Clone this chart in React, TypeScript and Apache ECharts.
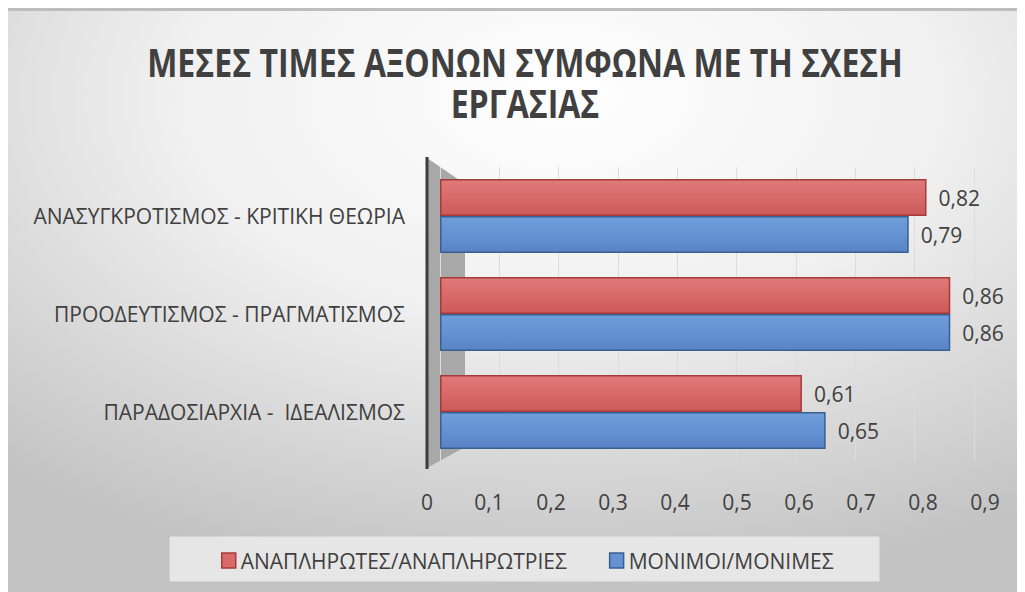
import React, { useEffect, useRef } from "react";
import * as echarts from "echarts";

const categories = [
  "ΠΑΡΑΔΟΣΙΑΡΧΙΑ -  ΙΔΕΑΛΙΣΜΟΣ",
  "ΠΡΟΟΔΕΥΤΙΣΜΟΣ - ΠΡΑΓΜΑΤΙΣΜΟΣ",
  "ΑΝΑΣΥΓΚΡΟΤΙΣΜΟΣ - ΚΡΙΤΙΚΗ ΘΕΩΡΙΑ",
];
const seriesNames = ["ΑΝΑΠΛΗΡΩΤΕΣ/ΑΝΑΠΛΗΡΩΤΡΙΕΣ", "ΜΟΝΙΜΟΙ/ΜΟΝΙΜΕΣ"];
const substituteValues = [0.61, 0.86, 0.82];
const permanentValues = [0.65, 0.86, 0.79];
const titleLines = ["ΜΕΣΕΣ ΤΙΜΕΣ ΑΞΟΝΩΝ ΣΥΜΦΩΝΑ ΜΕ ΤΗ ΣΧΕΣΗ", "ΕΡΓΑΣΙΑΣ"];
const axisMin = 0;
const axisMax = 0.9;
const axisStep = 0.1;

const FONT = '"Open Sans", "Noto Sans", sans-serif';
const TEXT = "#404040";
const comma = (v: number) => String(Math.round(v * 100) / 100).replace(".", ",");

export default function App() {
  const ref = useRef<HTMLDivElement>(null);
  useEffect(() => {
    if (!ref.current) return;
    const chart = echarts.init(ref.current, undefined, { renderer: "svg" });
    const redFill = new echarts.graphic.LinearGradient(0, 0, 0, 1, [
      { offset: 0, color: "#e07a79" },
      { offset: 0.5, color: "#d86a69" },
      { offset: 1, color: "#cc5a59" },
    ]);
    const blueFill = new echarts.graphic.LinearGradient(0, 0, 0, 1, [
      { offset: 0, color: "#6f9edb" },
      { offset: 0.5, color: "#6492d2" },
      { offset: 1, color: "#5884c6" },
    ]);
    const labelStyle = {
      show: true,
      position: "right",
      distance: 12,
      fontFamily: FONT,
      fontSize: 21,
      color: TEXT,
      formatter: (p: any) => comma(p.value),
    };
    chart.setOption({
      animation: false,
      backgroundColor: new echarts.graphic.RadialGradient(0.55, 0.15, 0.85, [
        { offset: 0, color: "#ffffff" },
        { offset: 0.45, color: "#f0f0f0" },
        { offset: 1, color: "#c2c2c2" },
      ]),
      graphic: [
        {
          type: "rect",
          shape: { x: 0, y: 0, width: 1009, height: 3 },
          style: { fill: "#bdbdbd" },
          z: 1,
        },
        {
          type: "text",
          x: 517,
          y: 54,
          scaleX: 0.8,
          style: {
            text: titleLines[0],
            font: 'bold 40px "Open Sans", sans-serif',
            fill: TEXT,
            textAlign: "center",
            textVerticalAlign: "middle",
          },
        },
        {
          type: "text",
          x: 517,
          y: 95,
          scaleX: 0.8,
          style: {
            text: titleLines[1],
            font: 'bold 40px "Open Sans", sans-serif',
            fill: TEXT,
            textAlign: "center",
            textVerticalAlign: "middle",
          },
        },
        {
          type: "polygon",
          shape: { points: [[419, 150], [457, 176], [457, 439], [419, 460]] },
          style: { fill: "#a8a8a8" },
          z: 0,
        },
        {
          type: "line",
          shape: { x1: 419, y1: 149, x2: 419, y2: 461 },
          style: { stroke: "#3d3d3d", lineWidth: 3 },
          z: 1,
        },
        {
          type: "rect",
          shape: { x: 162, y: 529, width: 709, height: 44 },
          style: { fill: "rgba(234,234,234,0.9)", stroke: "#e4e4e4", lineWidth: 1 },
          z: 0,
        },
      ],
      legend: {
        left: 208,
        top: 537,
        itemWidth: 14,
        itemHeight: 15,
        itemGap: 42,
        icon: "rect",
        textStyle: { fontFamily: FONT, fontSize: 21, color: TEXT },
        data: [
          { name: seriesNames[0], itemStyle: { color: "#d86a69", borderColor: "#a33b3a", borderWidth: 1.5 } },
          { name: seriesNames[1], itemStyle: { color: "#6492d2", borderColor: "#3a5f91", borderWidth: 1.5 } },
        ],
      },
      grid: [
        { left: 432, width: 534, top: 159, height: 294 },
        { left: 419, width: 558, top: 159, height: 294 },
      ],
      xAxis: [
        {
          type: "value",
          gridIndex: 0,
          min: axisMin,
          max: axisMax,
          interval: axisStep,
          axisLabel: { show: false },
          axisLine: { show: false },
          axisTick: { show: false },
          splitLine: { show: true, lineStyle: { color: "#dcdcdc", width: 1 } },
        },
        {
          type: "value",
          gridIndex: 1,
          min: axisMin,
          max: axisMax,
          interval: axisStep,
          axisLabel: {
            margin: 30,
            fontFamily: FONT,
            fontSize: 21,
            color: TEXT,
            formatter: (v: number) => comma(v),
          },
          axisLine: { show: false },
          axisTick: { show: false },
          splitLine: { show: false },
        },
      ],
      yAxis: [
        {
          type: "category",
          gridIndex: 0,
          data: categories,
          axisLine: { show: false },
          axisTick: { show: false },
          axisLabel: {
            margin: 35,
            fontFamily: FONT,
            fontSize: 21,
            color: TEXT,
          },
        },
        { type: "value", gridIndex: 1, show: false, min: 0, max: 1 },
      ],
      series: [
        {
          name: seriesNames[0],
          type: "bar",
          xAxisIndex: 0,
          yAxisIndex: 0,
          data: substituteValues,
          barWidth: 37,
          barGap: "0%",
          itemStyle: { color: redFill, borderColor: "#a33b3a", borderWidth: 1.5 },
          label: labelStyle,
        },
        {
          name: seriesNames[1],
          type: "bar",
          xAxisIndex: 0,
          yAxisIndex: 0,
          data: permanentValues,
          barWidth: 37,
          barGap: "0%",
          itemStyle: { color: blueFill, borderColor: "#3a5f91", borderWidth: 1.5 },
          label: labelStyle,
        },
      ],
    });
    return () => chart.dispose();
  }, []);
  return <div ref={ref} style={{ width: 1009, height: 584 }} />;
}
